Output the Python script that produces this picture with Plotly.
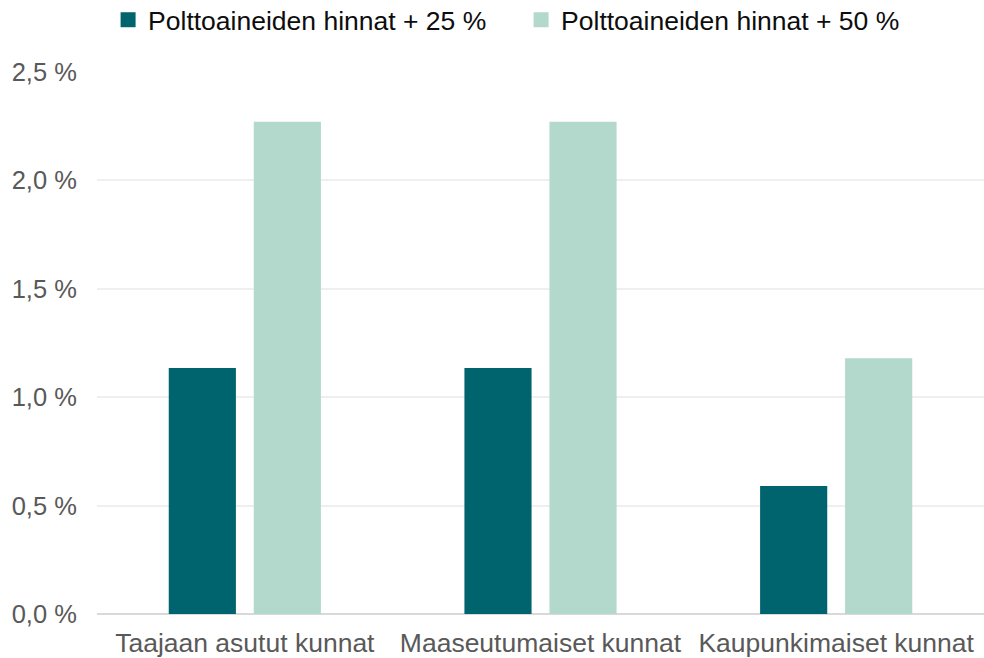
import plotly.graph_objects as go

categories = ["Taajaan asutut kunnat", "Maaseutumaiset kunnat", "Kaupunkimaiset kunnat"]
series_names = ["Polttoaineiden hinnat + 25 %", "Polttoaineiden hinnat + 50 %"]
values_25 = [1.135, 1.135, 0.59]
values_50 = [2.27, 2.27, 1.18]
colors = ["#00646f", "#b3d8cc"]

fig = go.Figure()
for name, vals, col in zip(series_names, [values_25, values_50], colors):
    fig.add_trace(go.Bar(x=categories, y=vals, name=name, showlegend=False,
                         marker=dict(color=col, line=dict(width=0))))
# legend entries with square markers
for name, col in zip(series_names, colors):
    fig.add_trace(go.Scatter(x=[None], y=[None], mode="markers", name=name,
                             marker=dict(symbol="square", size=15, color=col)))

fig.update_layout(
    width=984, height=658,
    margin=dict(l=97, r=0, t=72, b=44, autoexpand=False),
    paper_bgcolor="white", plot_bgcolor="white",
    font=dict(family="Liberation Sans, Arial, sans-serif", color="#595959"),
    separators=", ",
    barmode="group", bargap=0.425, bargroupgap=0.21,
    legend=dict(orientation="h", x=0.0125, xanchor="left", y=0.9696, yanchor="middle",
                yref="container", font=dict(size=26.5, color="#0d0d0d"),
                itemwidth=30, entrywidth=368, tracegroupgap=0, traceorder="normal",
                bgcolor="rgba(0,0,0,0)"),
    showlegend=True,
)
fig.update_yaxes(range=[0, 2.5], dtick=0.5, tickformat=".1f", ticksuffix=" %",
                 gridcolor="#efefef", gridwidth=1.5, zeroline=True, zerolinecolor="#d9d9d9",
                 zerolinewidth=2, tickfont=dict(size=25.5, color="#595959"),
                 ticks="outside", ticklen=14, tickcolor="rgba(0,0,0,0)", showline=False,
                 automargin=False, fixedrange=True)
fig.update_xaxes(tickfont=dict(size=26.5, color="#595959"), showline=False, ticks="outside",
                 ticklen=5, tickcolor="rgba(0,0,0,0)", automargin=False, fixedrange=True)

fig.write_html("out.html", config={"displayModeBar": False},
               post_script="document.body.style.margin='0';")
